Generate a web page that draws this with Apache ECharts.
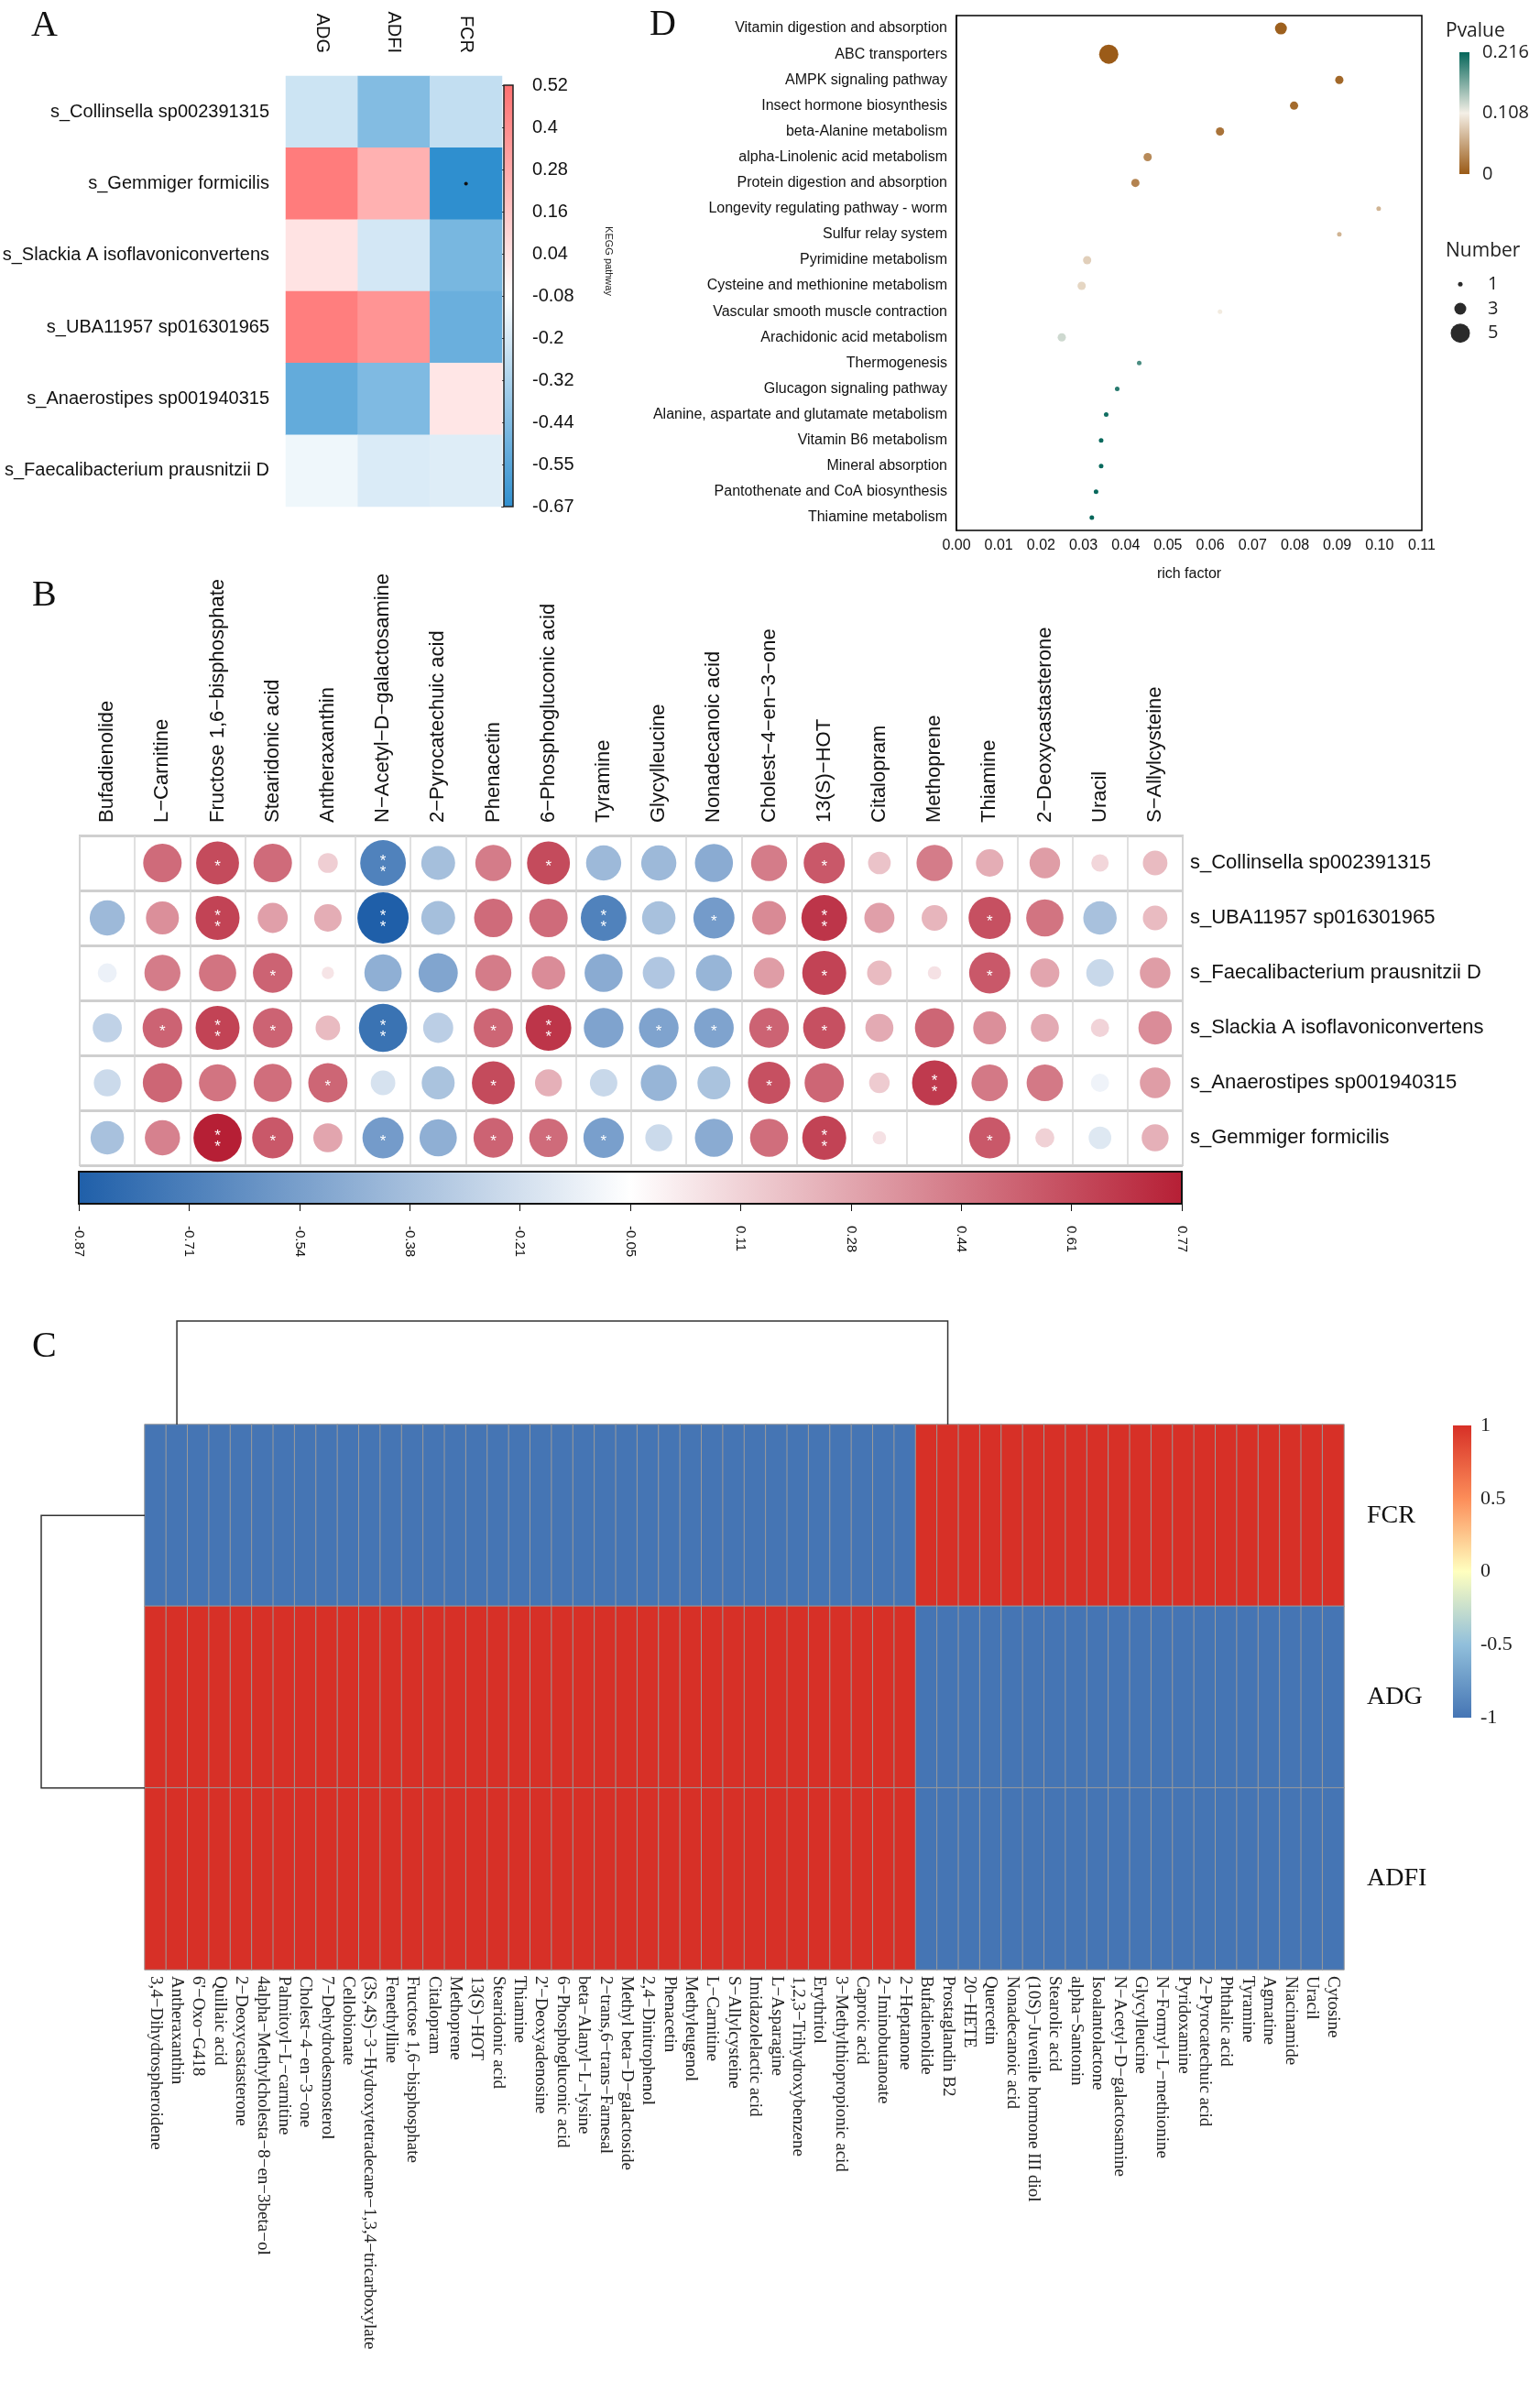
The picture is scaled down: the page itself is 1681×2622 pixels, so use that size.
<!DOCTYPE html>
<html>
<head>
<meta charset="utf-8">
<script src="https://cdn.jsdelivr.net/npm/echarts/dist/echarts.min.js"></script>
<style>
html, body { margin: 0; padding: 0; background: #fff; }
#main { width: 1681px; height: 2622px; }
</style>
</head>
<body>
<div id="main"></div>
<script>
// ---- A: 物种 vs 性状 相关热图 ----
var aTraits = ['ADG', 'ADFI', 'FCR'];
var aSpecies = ['s_Collinsella sp002391315', 's_Gemmiger formicilis', 's_Slackia A isoflavoniconvertens',
	's_UBA11957 sp016301965', 's_Anaerostipes sp001940315', 's_Faecalibacterium prausnitzii D'];
var aADG = [-0.22, 0.47, 0.04, 0.46, -0.52, -0.12];
var aADFI = [-0.43, 0.25, -0.2, 0.37, -0.44, -0.18];
var aFCR = [-0.25, -0.67, -0.46, -0.5, 0.03, -0.17];
var aSigCells = [[2, 1]];
var aTicks = ['-0.67', '-0.55', '-0.44', '-0.32', '-0.2', '-0.08', '0.04', '0.16', '0.28', '0.4', '0.52'];

// ---- D: KEGG 富集气泡图 ----
var dPathways = ['Vitamin digestion and absorption', 'ABC transporters', 'AMPK signaling pathway',
	'Insect hormone biosynthesis', 'beta-Alanine metabolism', 'alpha-Linolenic acid metabolism',
	'Protein digestion and absorption', 'Longevity regulating pathway - worm', 'Sulfur relay system',
	'Pyrimidine metabolism', 'Cysteine and methionine metabolism', 'Vascular smooth muscle contraction',
	'Arachidonic acid metabolism', 'Thermogenesis', 'Glucagon signaling pathway',
	'Alanine, aspartate and glutamate metabolism', 'Vitamin B6 metabolism', 'Mineral absorption',
	'Pantothenate and CoA biosynthesis', 'Thiamine metabolism'];
var dRich = [0.0767, 0.036, 0.0905, 0.0798, 0.0623, 0.0452, 0.0423, 0.0998, 0.0905, 0.0309,
	0.0296, 0.0623, 0.0249, 0.0432, 0.038, 0.0354, 0.0342, 0.0342, 0.033, 0.032];
var dNumber = [3, 5, 2, 2, 2, 2, 2, 1, 1, 2, 2, 1, 2, 1, 1, 1, 1, 1, 1, 1];
var dPvalue = [0.004, 0.001, 0.01, 0.012, 0.018, 0.035, 0.03, 0.065, 0.065, 0.085,
	0.09, 0.105, 0.125, 0.185, 0.2, 0.21, 0.214, 0.214, 0.214, 0.216];
var dPTicks = ['0', '0.108', '0.216'];
var dSizeKeys = [1, 3, 5];

// ---- B: 物种 vs 代谢物 相关气泡 ----
var bMetabolites = ['Bufadienolide', 'L−Carnitine', 'Fructose 1,6−bisphosphate', 'Stearidonic acid',
	'Antheraxanthin', 'N−Acetyl−D−galactosamine', '2−Pyrocatechuic acid', 'Phenacetin',
	'6−Phosphogluconic acid', 'Tyramine', 'Glycylleucine', 'Nonadecanoic acid', 'Cholest−4−en−3−one',
	'13(S)−HOT', 'Citalopram', 'Methoprene', 'Thiamine', '2−Deoxycastasterone', 'Uracil', 'S−Allylcysteine'];
var bSpecies = ['s_Collinsella sp002391315', 's_UBA11957 sp016301965', 's_Faecalibacterium prausnitzii D',
	's_Slackia A isoflavoniconvertens', 's_Anaerostipes sp001940315', 's_Gemmiger formicilis'];
var bCollinsella = [-0.05, 0.49, 0.61, 0.49, 0.13, -0.69, -0.38, 0.43, 0.61, -0.41, -0.41, -0.48, 0.43, 0.56, 0.17, 0.43, 0.25, 0.31, 0.1, 0.2];
var bUBA11957 = [-0.41, 0.36, 0.64, 0.3, 0.25, -0.87, -0.38, 0.49, 0.49, -0.69, -0.37, -0.56, 0.38, 0.69, 0.3, 0.22, 0.59, 0.46, -0.37, 0.2];
var bFaecali = [-0.12, 0.43, 0.46, 0.52, 0.05, -0.46, -0.51, 0.43, 0.37, -0.48, -0.34, -0.43, 0.31, 0.64, 0.2, 0.06, 0.56, 0.28, -0.25, 0.31];
var bSlackia = [-0.28, 0.52, 0.64, 0.52, 0.2, -0.77, -0.3, 0.51, 0.69, -0.52, -0.52, -0.52, 0.52, 0.59, 0.26, 0.51, 0.36, 0.26, 0.11, 0.37];
var bAnaero = [-0.24, 0.51, 0.46, 0.48, 0.51, -0.2, -0.36, 0.61, 0.24, -0.25, -0.43, -0.36, 0.59, 0.51, 0.14, 0.67, 0.44, 0.44, -0.11, 0.31];
var bGemmiger = [-0.37, 0.41, 0.77, 0.56, 0.28, -0.56, -0.46, 0.52, 0.49, -0.54, -0.24, -0.48, 0.48, 0.64, 0.06, -0.05, 0.56, 0.12, -0.17, 0.24];
var bCollinsellaSig = ['', '', '*', '', '', '**', '', '', '*', '', '', '', '', '*', '', '', '', '', '', ''];
var bUBA11957Sig = ['', '', '**', '', '', '**', '', '', '', '**', '', '*', '', '**', '', '', '*', '', '', ''];
var bFaecaliSig = ['', '', '', '*', '', '', '', '', '', '', '', '', '', '*', '', '', '*', '', '', ''];
var bSlackiaSig = ['', '*', '**', '*', '', '**', '', '*', '**', '', '*', '*', '*', '*', '', '', '', '', '', ''];
var bAnaeroSig = ['', '', '', '', '*', '', '', '*', '', '', '', '', '*', '', '', '**', '', '', '', ''];
var bGemmigerSig = ['', '', '**', '*', '', '*', '', '*', '*', '*', '', '', '', '**', '', '', '*', '', '', ''];
var bTicks = ['-0.87', '-0.71', '-0.54', '-0.38', '-0.21', '-0.05', '0.11', '0.28', '0.44', '0.61', '0.77'];

// ---- C: 代谢物 vs 性状 聚类热图 ----
var cMetabolites = ['3,4−Dihydrospheroidene', 'Antheraxanthin', "6'−Oxo−G418", 'Quillaic acid',
	'2−Deoxycastasterone', '4alpha−Methylcholesta−8−en−3beta−ol', 'Palmitoyl−L−carnitine',
	'Cholest−4−en−3−one', '7−Dehydrodesmosterol', 'Cellobionate',
	'(3S,4S)−3−Hydroxytetradecane−1,3,4−tricarboxylate', 'Fenethylline', 'Fructose 1,6−bisphosphate',
	'Citalopram', 'Methoprene', '13(S)−HOT', 'Stearidonic acid', 'Thiamine', "2'−Deoxyadenosine",
	'6−Phosphogluconic acid', 'beta−Alanyl−L−lysine', '2−trans,6−trans−Farnesal',
	'Methyl beta−D−galactoside', '2,4−Dinitrophenol', 'Phenacetin', 'Methyleugenol', 'L−Carnitine',
	'S−Allylcysteine', 'Imidazolelactic acid', 'L−Asparagine', '1,2,3−Trihydroxybenzene', 'Erythritol',
	'3−Methylthiopropionic acid', 'Caproic acid', '2−Iminobutanoate', '2−Heptanone', 'Bufadienolide',
	'Prostaglandin B2', '20−HETE', 'Quercetin', 'Nonadecanoic acid', '(10S)−Juvenile hormone III diol',
	'Stearolic acid', 'alpha−Santonin', 'Isoalantolactone', 'N−Acetyl−D−galactosamine', 'Glycylleucine',
	'N−Formyl−L−methionine', 'Pyridoxamine', '2−Pyrocatechuic acid', 'Phthalic acid', 'Tyramine',
	'Agmatine', 'Niacinamide', 'Uracil', 'Cytosine'];
var cTraits = ['FCR', 'ADG', 'ADFI'];
var cFCR = [-1, -1, -1, -1, -1, -1, -1, -1, -1, -1, -1, -1, -1, -1, -1, -1, -1, -1, -1, -1,
	-1, -1, -1, -1, -1, -1, -1, -1, -1, -1, -1, -1, -1, -1, -1, -1,
	1, 1, 1, 1, 1, 1, 1, 1, 1, 1, 1, 1, 1, 1, 1, 1, 1, 1, 1, 1];
var cADG = [1, 1, 1, 1, 1, 1, 1, 1, 1, 1, 1, 1, 1, 1, 1, 1, 1, 1, 1, 1,
	1, 1, 1, 1, 1, 1, 1, 1, 1, 1, 1, 1, 1, 1, 1, 1,
	-1, -1, -1, -1, -1, -1, -1, -1, -1, -1, -1, -1, -1, -1, -1, -1, -1, -1, -1, -1];
var cADFI = [1, 1, 1, 1, 1, 1, 1, 1, 1, 1, 1, 1, 1, 1, 1, 1, 1, 1, 1, 1,
	1, 1, 1, 1, 1, 1, 1, 1, 1, 1, 1, 1, 1, 1, 1, 1,
	-1, -1, -1, -1, -1, -1, -1, -1, -1, -1, -1, -1, -1, -1, -1, -1, -1, -1, -1, -1];
var cTicks = ['-1', '-0.5', '0', '0.5', '1'];
var cTopDendro = [1, 37];     // 列聚类两支的位置 (列序号)
var cLeftDendro = [0, 1.5];   // 行聚类两支的位置 (行序号)

var SANS = '"Liberation Sans", Arial, sans-serif';
var SERIF = '"Liberation Serif", "Times New Roman", serif';
var aColors = ['#2f8fcf', '#ffffff', '#ff7070'];
var dColors = ['#9a5a16', '#f4efe6', '#05665a'];
var bColors = ['#1f5fa9', '#ffffff', '#b61f35'];
var cColors = ['#4575b4', '#91bfdb', '#ffffbf', '#fc8d59', '#d73027'];

function gradient(colors, vertical) {
	var stops = colors.map(function (c, i) {
		return { offset: i / (colors.length - 1), color: c };
	});
	return vertical
		? { type: 'linear', x: 0, y: 1, x2: 0, y2: 0, colorStops: stops }
		: { type: 'linear', x: 0, y: 0, x2: 1, y2: 0, colorStops: stops };
}

var aHeat = [];
aSpecies.forEach(function (s, j) {
	aHeat.push([0, j, aADG[j]], [1, j, aADFI[j]], [2, j, aFCR[j]]);
});

var dData = dPathways.map(function (p, i) {
	return [dRich[i], i, dNumber[i], dPvalue[i]];
});
function dSize(n) { return 1 + 4 * n; }

var bRows = [bCollinsella, bUBA11957, bFaecali, bSlackia, bAnaero, bGemmiger];
var bSigRows = [bCollinsellaSig, bUBA11957Sig, bFaecaliSig, bSlackiaSig, bAnaeroSig, bGemmigerSig];
var bData = [];
bRows.forEach(function (row, j) {
	row.forEach(function (v, i) { bData.push([i, j, v, bSigRows[j][i]]); });
});

var cData = [];
[cFCR, cADG, cADFI].forEach(function (row, j) {
	row.forEach(function (v, i) { cData.push([i, j, v]); });
});

var noAxis = { show: false };

function lerpCoord(api, v, dim) {
	var f = Math.floor(v), r = v - f;
	var p0 = api.coord(dim === 0 ? [f, 0] : [0, f]);
	if (!r) return p0[dim];
	var p1 = api.coord(dim === 0 ? [f + 1, 0] : [0, f + 1]);
	return p0[dim] + r * (p1[dim] - p0[dim]);
}

var chart = echarts.init(document.getElementById('main'));

var option = {
	backgroundColor: '#fff',
	animation: false,
	textStyle: { fontFamily: SANS },
	grid: [
		{ left: 312, top: 83, width: 236, height: 470, outerBoundsMode: 'none' },
		{ left: 550, top: 93, width: 10, height: 460, show: true, backgroundColor: gradient(aColors, true), borderColor: '#222', borderWidth: 1.5, outerBoundsMode: 'none' },
		{ left: 1044, top: 17, width: 508, height: 562, show: true, borderColor: '#000', borderWidth: 1.5, outerBoundsMode: 'none' },
		{ left: 1593, top: 57, width: 11, height: 133, show: true, backgroundColor: gradient(dColors, true), borderWidth: 0, outerBoundsMode: 'none' },
		{ left: 1588, top: 297, width: 12, height: 80, outerBoundsMode: 'none' },
		{ left: 87, top: 912, width: 1204, height: 360, show: true, borderColor: '#cfcfcf', borderWidth: 2, outerBoundsMode: 'none' },
		{ left: 86, top: 1279, width: 1204, height: 35, show: true, backgroundColor: gradient(bColors, false), borderColor: '#111', borderWidth: 2, outerBoundsMode: 'none' },
		{ left: 158, top: 1555, width: 1309, height: 595, outerBoundsMode: 'none' },
		{ left: 1586, top: 1556, width: 20, height: 319, show: true, backgroundColor: gradient(cColors, true), borderWidth: 0, outerBoundsMode: 'none' }
	],
	xAxis: [
		{ gridIndex: 0, type: 'category', data: aTraits, position: 'top', axisLine: noAxis, axisTick: noAxis,
			axisLabel: { rotate: 90, margin: 25, fontSize: 20, fontFamily: SANS, color: '#111' } },
		{ gridIndex: 1, type: 'value', show: false },
		{ gridIndex: 2, type: 'value', min: 0, max: 0.11, interval: 0.01, splitLine: noAxis,
			axisLine: { lineStyle: { color: '#000', width: 1.5 } },
			axisTick: { length: 5, lineStyle: { color: '#000' } },
			axisLabel: { fontSize: 16, fontFamily: SANS, color: '#111', margin: 9,
				formatter: function (v) { return v.toFixed(2); } },
			name: 'rich factor', nameLocation: 'middle', nameGap: 40,
			nameTextStyle: { fontSize: 16, fontFamily: SANS, color: '#111' } },
		{ gridIndex: 3, type: 'value', show: false },
		{ gridIndex: 4, type: 'value', show: false, min: -1, max: 1 },
		{ gridIndex: 5, type: 'category', data: bMetabolites, position: 'top', axisLine: noAxis, axisTick: noAxis,
			splitLine: { show: true, interval: 0, lineStyle: { color: '#d6d6d6', width: 1.5 } },
			axisLabel: { interval: 0, rotate: -90, margin: 14, fontSize: 22, fontFamily: SANS, color: '#111' } },
		{ gridIndex: 6, type: 'category', data: bTicks, boundaryGap: false, axisLine: noAxis,
			axisTick: { show: true, length: 8, lineStyle: { color: '#111' } },
			axisLabel: { rotate: -90, margin: 24, fontSize: 15, fontFamily: SANS, color: '#111' } },
		{ gridIndex: 7, type: 'category', data: cMetabolites, axisLine: noAxis, axisTick: noAxis,
			axisLabel: { interval: 0, rotate: -90, margin: 7, fontSize: 19, fontFamily: SERIF, color: '#222' } },
		{ gridIndex: 8, type: 'value', show: false }
	],
	yAxis: [
		{ gridIndex: 0, type: 'category', data: aSpecies, inverse: true, axisLine: noAxis, axisTick: noAxis,
			axisLabel: { margin: 18, fontSize: 20, fontFamily: SANS, color: '#111' } },
		{ gridIndex: 1, type: 'category', data: aTicks, boundaryGap: false, position: 'right', axisLine: noAxis,
			axisTick: { show: true, inside: true, length: 3, lineStyle: { color: '#222' } },
			axisLabel: { margin: 21, fontSize: 20, fontFamily: SANS, color: '#111' } },
		{ gridIndex: 2, type: 'category', data: dPathways, inverse: true,
			axisLine: { lineStyle: { color: '#000', width: 1.5 } },
			axisTick: { length: 6, alignWithLabel: true, lineStyle: { color: '#000' } },
			axisLabel: { interval: 0, fontSize: 16, fontFamily: SANS, color: '#111', margin: 10 } },
		{ gridIndex: 3, type: 'category', data: dPTicks, boundaryGap: false, position: 'right', axisLine: noAxis, axisTick: noAxis,
			axisLabel: { margin: 14, fontSize: 20, fontFamily: '"Open Sans", sans-serif', color: '#222' } },
		{ gridIndex: 4, type: 'category', data: dSizeKeys.map(String), inverse: true, position: 'right', axisLine: noAxis, axisTick: noAxis,
			axisLabel: { margin: 24, fontSize: 20, fontFamily: '"Open Sans", sans-serif', color: '#222' } },
		{ gridIndex: 5, type: 'category', data: bSpecies, inverse: true, position: 'right', axisLine: noAxis, axisTick: noAxis,
			splitLine: { show: true, interval: 0, lineStyle: { color: '#cfcfcf', width: 3 } },
			axisLabel: { margin: 8, fontSize: 22, fontFamily: SANS, color: '#111' } },
		{ gridIndex: 6, type: 'value', show: false },
		{ gridIndex: 7, type: 'category', data: cTraits, inverse: true, position: 'right', axisLine: noAxis, axisTick: noAxis,
			axisLabel: { margin: 25, fontSize: 28, fontFamily: SERIF, color: '#111' } },
		{ gridIndex: 8, type: 'category', data: cTicks, boundaryGap: false, position: 'right', axisLine: noAxis, axisTick: noAxis,
			axisLabel: { margin: 10, fontSize: 22, fontFamily: SERIF, color: '#222' } }
	],
	visualMap: [
		{ type: 'continuous', show: false, seriesIndex: 0, dimension: 2, min: -0.67, max: 0.52, inRange: { color: aColors } },
		{ type: 'continuous', show: false, seriesIndex: 2, dimension: 3, min: 0, max: 0.216, inRange: { color: dColors } },
		{ type: 'continuous', show: false, seriesIndex: 4, dimension: 2, min: -0.87, max: 0.77, inRange: { color: bColors } },
		{ type: 'continuous', show: false, seriesIndex: 5, dimension: 2, min: -1, max: 1, inRange: { color: cColors } }
	],
	series: [
		{ type: 'heatmap', xAxisIndex: 0, yAxisIndex: 0, data: aHeat, itemStyle: { borderWidth: 0 }, emphasis: { disabled: true } },
		{ type: 'scatter', xAxisIndex: 0, yAxisIndex: 0, data: aSigCells, symbolSize: 4, itemStyle: { color: '#111', opacity: 1 }, z: 5 },
		{ type: 'scatter', xAxisIndex: 2, yAxisIndex: 2, data: dData, itemStyle: { opacity: 1 },
			symbolSize: function (v) { return dSize(v[2]); } },
		{ type: 'scatter', xAxisIndex: 4, yAxisIndex: 4, itemStyle: { color: '#2a2a2a', opacity: 1 },
			data: dSizeKeys.map(function (n, i) { return [0, i, n]; }),
			symbolSize: function (v) { return dSize(v[2]); } },
		{ type: 'scatter', xAxisIndex: 5, yAxisIndex: 5, data: bData, itemStyle: { opacity: 1 },
			symbolSize: function (v) { return 60 * Math.sqrt(Math.abs(v[2])); },
			label: { show: true, position: 'inside', color: '#fff', fontSize: 17, lineHeight: 12, offset: [0, 4],
				fontFamily: SANS,
				formatter: function (p) { return p.data[3] ? p.data[3].split('').join('\n') : ''; } } },
		{ type: 'heatmap', xAxisIndex: 7, yAxisIndex: 7, data: cData, itemStyle: { borderColor: '#9b9b9b', borderWidth: 1 }, emphasis: { disabled: true } },
		// 列聚类树
		{ type: 'custom', xAxisIndex: 7, yAxisIndex: 7, data: [[cTopDendro[0], 0, cTopDendro[1]]], encode: { x: 0, y: 1 }, silent: true,
			renderItem: function (params, api) {
				var top = params.coordSys.y, h = 113;
				var xa = lerpCoord(api, api.value(0), 0), xb = lerpCoord(api, api.value(2), 0);
				return { type: 'polyline', shape: { points: [[xa, top], [xa, top - h], [xb, top - h], [xb, top]] },
					style: { stroke: '#333', lineWidth: 1.5, fill: null } };
			} },
		// 行聚类树
		{ type: 'custom', xAxisIndex: 7, yAxisIndex: 7, data: [[0, cLeftDendro[0], cLeftDendro[1]]], encode: { x: 0, y: 1 }, silent: true,
			renderItem: function (params, api) {
				var left = params.coordSys.x, w = 113;
				var ya = lerpCoord(api, api.value(1), 1), yb = lerpCoord(api, api.value(2), 1);
				return { type: 'polyline', shape: { points: [[left, ya], [left - w, ya], [left - w, yb], [left, yb]] },
					style: { stroke: '#333', lineWidth: 1.5, fill: null } };
			} }
	],
	graphic: [
		{ type: 'text', left: 34, top: 8, style: { text: 'A', font: '40px ' + SERIF, fill: '#111' } },
		{ type: 'text', left: 709, top: 7, style: { text: 'D', font: '40px ' + SERIF, fill: '#111' } },
		{ type: 'text', left: 35, top: 630, style: { text: 'B', font: '40px ' + SERIF, fill: '#111' } },
		{ type: 'text', left: 35, top: 1450, style: { text: 'C', font: '40px ' + SERIF, fill: '#111' } },
		{ type: 'text', x: 664, y: 285, rotation: -Math.PI / 2,
			style: { text: 'KEGG pathway', font: '11px ' + SANS, fill: '#222', align: 'center', verticalAlign: 'middle' } },
		{ type: 'text', left: 1578, top: 24, style: { text: 'Pvalue', font: '21px "Open Sans", sans-serif', fill: '#222' } },
		{ type: 'text', left: 1578, top: 264, style: { text: 'Number', font: '21px "Open Sans", sans-serif', fill: '#222' } }
	]
};

chart.setOption(option);
</script>
</body>
</html>
